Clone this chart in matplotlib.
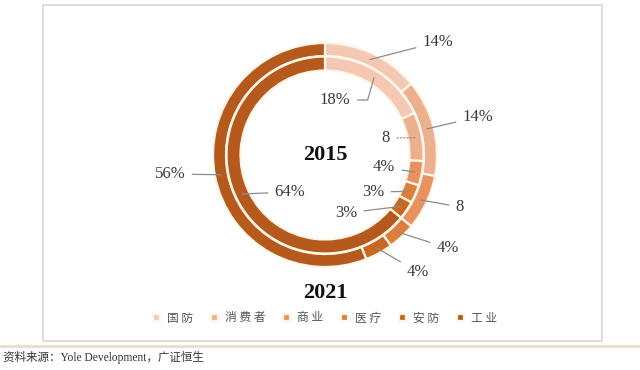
import matplotlib.pyplot as plt
from matplotlib.patches import Rectangle
import numpy as np

# data
categories = ['国防', '消费者', '商业', '医疗', '安防', '工业']
share_2021 = [14, 14, 8, 4, 4, 56]   # outer ring
share_2015 = [18, 8, 4, 3, 3, 64]    # inner ring
labels_2021 = ['14%', '14%', '8', '4%', '4%', '56%']
labels_2015 = ['18%', '8', '4%', '3%', '3%', '64%']
colors = ['#F5C8B4', '#EDB08F', '#E9915F', '#DF7D3A', '#C9661F', '#B5591D']

# label text positions in pixels (x, y from top)
pos_2021 = [(438, 42), (478, 117), (460, 207), (448, 248), (418, 272), (170, 174)]
pos_2015 = [(335, 100), (386, 138), (384, 167), (373, 192), (346, 213), (290, 192)]

W, H = 640, 370
CX, CY = 325, H - 155
R_OUT, W_OUT = 112, 13
R_IN, W_IN = 98.5, 14

num_font = dict(family='Liberation Serif', size=12, color='#3a3a3a')


def mid_point(wedge):
    ang = np.deg2rad((wedge.theta1 + wedge.theta2) / 2)
    r = wedge.r - wedge.width / 2
    return CX + r * np.cos(ang), CY + r * np.sin(ang)


def main():
    fig = plt.figure(figsize=(6.4, 3.7), dpi=100)
    ax = fig.add_axes([0, 0, 1, 1])

    edge = dict(edgecolor='#FFF6EA', linewidth=1.6)
    outer, _ = ax.pie(share_2021, colors=colors, radius=R_OUT, center=(CX, CY),
                      startangle=90, counterclock=False,
                      wedgeprops=dict(width=W_OUT, **edge))
    inner, _ = ax.pie(share_2015, colors=colors, radius=R_IN, center=(CX, CY),
                      startangle=90, counterclock=False,
                      wedgeprops=dict(width=W_IN, **edge))
    ax.set_xlim(0, W)
    ax.set_ylim(0, H)
    ax.set_aspect('equal')
    ax.axis('off')

    for wedges, labels, pos in ((outer, labels_2021, pos_2021),
                                (inner, labels_2015, pos_2015)):
        for i, (w, lab, (tx, ty)) in enumerate(zip(wedges, labels, pos)):
            ls = ':' if (lab == '8' and wedges is inner) else '-'
            conn = 'arc3'
            if wedges is inner and i == 0:
                conn = 'angle,angleA=0,angleB=74,rad=0'
            ax.annotate(lab, xy=mid_point(w), xytext=(tx, H - ty),
                        ha='center', va='center', **num_font,
                        arrowprops=dict(arrowstyle='-', color='#8c8c8c', lw=0.9,
                                        ls=ls, shrinkA=3, shrinkB=0,
                                        connectionstyle=conn))

    ax.text(CX, H - 155, '2015', ha='center', va='center',
            family='Liberation Serif', fontsize=16, fontweight='bold', color='#111')
    ax.text(CX, H - 293, '2021', ha='center', va='center',
            family='Liberation Serif', fontsize=16, fontweight='bold', color='#111')

    spaced = [' '.join(c) for c in categories]
    fig.legend(outer, spaced, loc='center', bbox_to_anchor=(CX / W, 1 - 318 / H),
               ncol=6, frameon=False, handlelength=0.6, handleheight=0.6,
               handletextpad=0.6, columnspacing=1.5,
               prop=dict(family='Noto Sans CJK SC', size=8.5), labelcolor='#555555')

    fig.patches.append(Rectangle((43 / W, 1 - 341 / H), (602 - 43) / W, (341 - 5) / H,
                                 transform=fig.transFigure, fill=False,
                                 edgecolor='#D8D8DC', lw=1.2))
    ax.plot([0, W], [H - 346, H - 346], color='#E9DECB', lw=2)

    fig.text(3 / W, 1 - 357 / H, '资料来源：Yole Development，广证恒生',
             ha='left', va='center', fontsize=8.3, color='#333',
             family=['Liberation Serif', 'Noto Sans CJK SC'])

    fig.savefig('out.png', dpi=100)


if __name__ == '__main__':
    main()
